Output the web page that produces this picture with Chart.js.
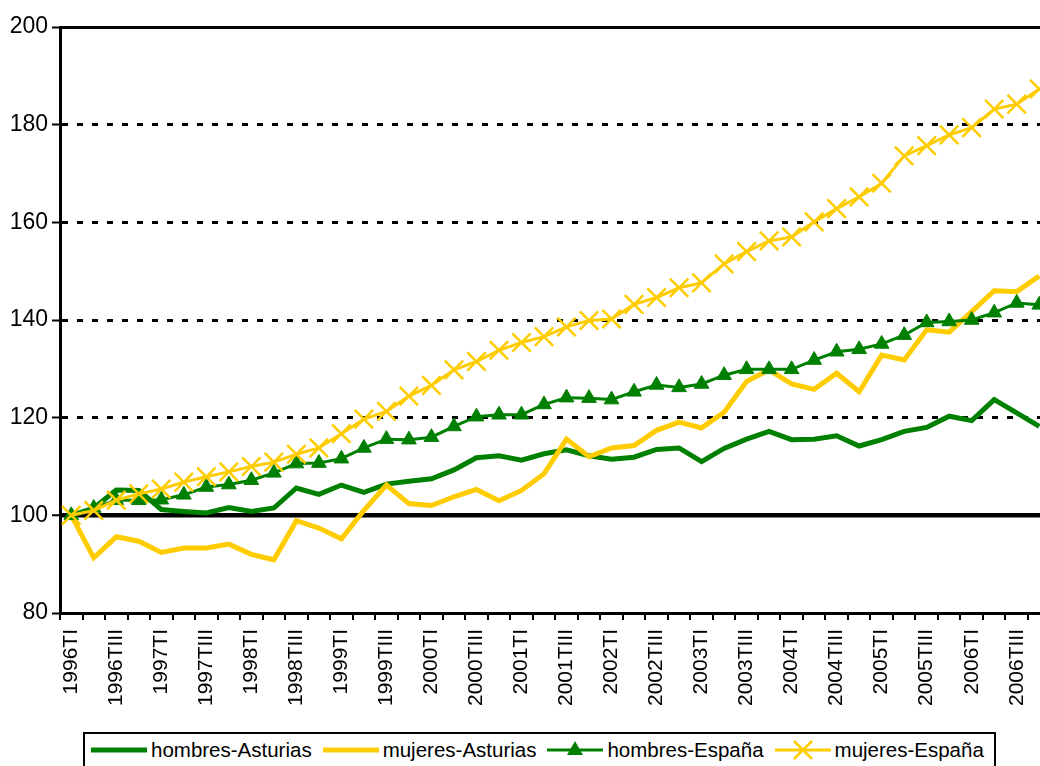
<!DOCTYPE html>
<html lang="es">
<head>
  <meta charset="UTF-8">
  <title>Índices hombres / mujeres</title>
  <script src="https://cdn.jsdelivr.net/npm/chart.js" crossorigin="anonymous"></script>
  <style>
    body {
      margin: 0;
      background: #fff;
      overflow: hidden;
      font-family: "Liberation Sans", Arial, sans-serif;
    }
    .wrap {
      position: relative;
      width: 1066px;
      height: 766px;
    }
    #chart {
      position: absolute;
      left: 0;
      top: 0;
    }
    .legend {
      position: absolute;
      left: 83px;
      top: 732px;
      width: 913px;
      height: 40px;
      border: 2px solid #000;
      display: flex;
      align-items: flex-start;
      padding: 4px 0 0 6px;
      box-sizing: border-box;
      font-size: 20.5px;
      color: #000;
    }
    .legend .item {
      display: flex;
      align-items: center;
      margin-right: 11px;
      white-space: nowrap;
    }
    .legend svg {
      margin-right: 4px;
    }
  </style>
</head>
<body>
  <div class="wrap">
    <canvas id="chart" width="1066" height="725"></canvas>
    <div class="legend" id="legend"></div>
  </div>

  <script>
    const labels = [
      '1996TI', '1996TII', '1996TIII', '1996TIV',
      '1997TI', '1997TII', '1997TIII', '1997TIV',
      '1998TI', '1998TII', '1998TIII', '1998TIV',
      '1999TI', '1999TII', '1999TIII', '1999TIV',
      '2000TI', '2000TII', '2000TIII', '2000TIV',
      '2001TI', '2001TII', '2001TIII', '2001TIV',
      '2002TI', '2002TII', '2002TIII', '2002TIV',
      '2003TI', '2003TII', '2003TIII', '2003TIV',
      '2004TI', '2004TII', '2004TIII', '2004TIV',
      '2005TI', '2005TII', '2005TIII', '2005TIV',
      '2006TI', '2006TII', '2006TIII', '2006TIV'
    ];

    const hombresAsturias = [
      100, 101.5, 105.2, 105.1, 101.2, 100.8, 100.5, 101.6, 100.8, 101.5,
      105.6, 104.3, 106.2, 104.7, 106.4, 107.0, 107.5, 109.3, 111.8, 112.2,
      111.3, 112.6, 113.4, 112.2, 111.5, 111.9, 113.5, 113.8, 111.0, 113.7,
      115.6, 117.2, 115.5, 115.6, 116.3, 114.2, 115.5, 117.2, 118.0, 120.3,
      119.4, 123.7, 121.0, 118.2
    ];

    const mujeresAsturias = [
      100, 91.3, 95.6, 94.7, 92.4, 93.3, 93.3, 94.1, 92.0, 90.9,
      98.9, 97.4, 95.2, 101.0, 106.2, 102.4, 102.0, 103.8, 105.3, 103.0,
      105.1, 108.5, 115.6, 112.0, 113.8, 114.3, 117.4, 119.1, 117.9, 121.1,
      127.4, 129.8, 126.9, 125.8, 129.1, 125.3, 132.8, 131.8, 138.0, 137.5,
      141.7, 146.0, 145.8, 149.0
    ];

    const hombresEspana = [
      100, 101.5, 103.1, 103.1, 103.2, 104.2, 105.8, 106.3, 107.2, 108.7,
      110.6, 110.7, 111.6, 113.8, 115.6, 115.5, 116.0, 118.2, 120.2, 120.6,
      120.6, 122.7, 124.1, 124.0, 123.7, 125.3, 126.7, 126.2, 126.9, 128.7,
      129.9, 129.9, 129.9, 131.8, 133.5, 134.0, 135.1, 136.9, 139.5, 139.7,
      140.0, 141.5, 143.5, 143.1
    ];

    const mujeresEspana = [
      100, 101.0, 103.1, 104.4, 105.4, 106.8, 107.9, 108.9, 110.0, 110.9,
      112.5, 113.8, 116.7, 119.7, 121.3, 124.4, 126.6, 129.8, 131.5, 133.8,
      135.4, 136.6, 138.6, 139.9, 140.2, 143.2, 144.6, 146.6, 147.6, 151.5,
      154.0, 156.2, 157.0, 160.1, 162.8, 165.2, 168.0, 173.6, 175.7, 177.9,
      179.4, 183.2, 184.2, 187.3
    ];

    const GREEN = '#008000';
    const GOLD = '#FFCC00';
    const FONT = '"Liberation Sans", Arial, sans-serif';

    // solid lines at the base (100), the top (200) and the axis (80)
    const solidValues = [80, 100, 200];

    const series = [
      { label: 'hombres-Asturias', data: hombresAsturias, color: GREEN, width: 5, marker: null },
      { label: 'mujeres-Asturias', data: mujeresAsturias, color: GOLD, width: 5, marker: null },
      { label: 'hombres-España', data: hombresEspana, color: GREEN, width: 3, marker: 'triangle' },
      { label: 'mujeres-España', data: mujeresEspana, color: GOLD, width: 3, marker: 'crossRot' }
    ];

    const datasets = series.map((s, i) => ({
      label: s.label,
      data: s.data,
      borderColor: s.color,
      backgroundColor: s.color,
      borderWidth: s.width,
      tension: 0,
      fill: false,
      order: series.length - i,
      pointStyle: s.marker || 'circle',
      pointRadius: s.marker === 'triangle' ? 8.5 : (s.marker === 'crossRot' ? 13 : 0),
      pointBorderWidth: s.marker === 'crossRot' ? 2.5 : 1,
      pointBorderColor: s.color,
      pointBackgroundColor: s.color,
      pointHoverRadius: 0
    }));

    new Chart(document.getElementById('chart').getContext('2d'), {
      type: 'line',
      data: { labels, datasets },
      options: {
        responsive: false,
        animation: false,
        events: [],
        layout: { padding: { top: 27, right: 0, bottom: 0, left: 0 } },
        plugins: {
          legend: { display: false },
          tooltip: { enabled: false }
        },
        scales: {
          x: {
            type: 'category',
            offset: true,
            afterFit: scale => {
              scale.height = 112;
              scale.paddingLeft = 0;
              scale.paddingRight = 0;
            },
            grid: {
              display: true,
              drawOnChartArea: false,
              drawTicks: true,
              tickLength: 7,
              offset: true,
              color: '#000',
              lineWidth: 2
            },
            border: { display: true, color: '#000', width: 3 },
            ticks: {
              autoSkip: false,
              maxRotation: 90,
              minRotation: 90,
              padding: 9,
              color: '#000',
              font: { family: FONT, size: 21 },
              callback: (v, i) => (i % 2 === 0 ? labels[i] : '')
            }
          },
          y: {
            min: 80,
            max: 200,
            afterFit: scale => { scale.width = 60; },
            ticks: {
              stepSize: 20,
              padding: 4,
              color: '#000',
              font: { family: FONT, size: 23 }
            },
            grid: {
              color: '#000',
              drawTicks: true,
              tickLength: 8,
              tickWidth: 2,
              tickColor: '#000',
              lineWidth: ctx => (ctx.tick && ctx.tick.value === 100 ? 4.5 : 3)
            },
            border: {
              display: true,
              color: '#000',
              width: 3,
              dash: ctx => (ctx.tick && solidValues.includes(ctx.tick.value) ? [] : [6, 9])
            }
          }
        }
      }
    });

    // legend box under the chart
    const legend = document.getElementById('legend');
    series.forEach(s => {
      const item = document.createElement('div');
      item.className = 'item';
      let mark = '';
      if (s.marker === 'triangle') {
        mark = `<polygon points="28,2 36,16 20,16" fill="${s.color}"/>`;
      } else if (s.marker === 'crossRot') {
        mark = `<path d="M19,2 L37,20 M37,2 L19,20" stroke="${s.color}" stroke-width="2.5"/>`;
      }
      item.innerHTML = `
        <svg width="56" height="22" viewBox="0 0 56 22">
          <line x1="0" y1="11" x2="56" y2="11" stroke="${s.color}" stroke-width="${s.width}"/>
          ${mark}
        </svg>
        <span>${s.label}</span>
      `;
      legend.appendChild(item);
    });
  </script>
</body>
</html>
